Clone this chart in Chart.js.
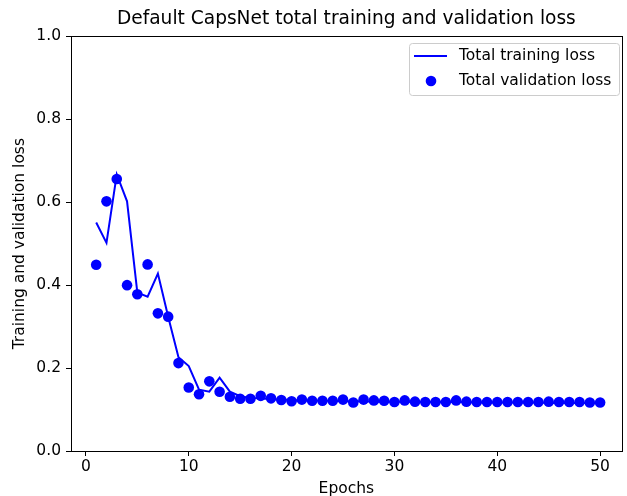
<!DOCTYPE html>
<html>
<head>
<meta charset="utf-8">
<script src="https://cdn.jsdelivr.net/npm/chart.js@4"></script>
<style>
html, body { margin: 0; padding: 0; background: #fff; }
</style>
</head>
<body>
<canvas id="chart" width="627" height="496"></canvas>
<script>
var epochs = [1, 2, 3, 4, 5, 6, 7, 8, 9, 10, 11, 12, 13, 14, 15, 16, 17, 18, 19, 20,
    21, 22, 23, 24, 25, 26, 27, 28, 29, 30, 31, 32, 33, 34, 35, 36, 37, 38, 39, 40,
    41, 42, 43, 44, 45, 46, 47, 48, 49, 50];

var trainLoss = [0.551, 0.502, 0.667, 0.602, 0.382, 0.372, 0.428, 0.324, 0.226, 0.205,
    0.148, 0.143, 0.177, 0.143, 0.132, 0.128, 0.127, 0.125, 0.124, 0.123,
    0.122, 0.122, 0.121, 0.121, 0.120, 0.120, 0.120, 0.119, 0.119, 0.119,
    0.119, 0.118, 0.118, 0.118, 0.118, 0.118, 0.118, 0.117, 0.117, 0.117,
    0.117, 0.117, 0.117, 0.117, 0.116, 0.116, 0.116, 0.116, 0.116, 0.116];

var valLoss = [0.449, 0.602, 0.656, 0.400, 0.378, 0.450, 0.332, 0.324, 0.212, 0.153,
    0.137, 0.168, 0.143, 0.131, 0.126, 0.126, 0.133, 0.127, 0.123, 0.120,
    0.124, 0.121, 0.121, 0.121, 0.124, 0.117, 0.124, 0.122, 0.121, 0.118,
    0.122, 0.119, 0.118, 0.118, 0.118, 0.122, 0.119, 0.118, 0.118, 0.118,
    0.118, 0.118, 0.118, 0.118, 0.119, 0.118, 0.118, 0.118, 0.117, 0.117];

var xTicks = [0, 10, 20, 30, 40, 50];
var yTicks = [0.0, 0.2, 0.4, 0.6, 0.8, 1.0];

var FONT = 'DejaVu Sans';
var TEXT_SIZE = 15.5;

function points(ys) {
    var out = [];
    for (var i = 0; i < epochs.length; i++) {
        out.push({ x: epochs[i], y: ys[i] });
    }
    return out;
}

// matplotlib style box round the axes
var framePlugin = {
    id: 'frame',
    afterDatasetsDraw: function (chart) {
        var a = chart.chartArea;
        var ctx = chart.ctx;
        ctx.save();
        ctx.strokeStyle = '#000';
        ctx.lineWidth = 1;
        ctx.strokeRect(Math.round(a.left) + 0.5, Math.round(a.top) + 0.5,
            Math.round(a.right - a.left), Math.round(a.bottom - a.top));
        ctx.restore();
    }
};

// legend sits inside the axes, upper right
var innerLegend = {
    id: 'innerLegend',
    afterDraw: function (chart) {
        var a = chart.chartArea;
        var ctx = chart.ctx;
        var sets = chart.data.datasets;
        ctx.save();
        ctx.font = TEXT_SIZE + 'px "' + FONT + '"';
        var w = 0;
        for (var i = 0; i < sets.length; i++) {
            w = Math.max(w, ctx.measureText(sets[i].label).width);
        }
        var boxW = Math.round(50 + w + 8);
        var boxH = 52;
        var x0 = Math.round(a.right - 3 - boxW);
        var y0 = Math.round(a.top + 7);

        ctx.beginPath();
        ctx.roundRect(x0 + 0.5, y0 + 0.5, boxW, boxH, 3);
        ctx.fillStyle = 'rgba(255,255,255,0.8)';
        ctx.fill();
        ctx.strokeStyle = '#cccccc';
        ctx.lineWidth = 1;
        ctx.stroke();

        for (var j = 0; j < sets.length; j++) {
            var cy = y0 + 13 + j * 25;
            var ds = sets[j];
            if (ds.showLine === false) {
                ctx.beginPath();
                ctx.arc(x0 + 22, cy, ds.pointRadius, 0, Math.PI * 2);
                ctx.fillStyle = ds.backgroundColor;
                ctx.fill();
            } else {
                ctx.beginPath();
                ctx.moveTo(x0 + 5, cy);
                ctx.lineTo(x0 + 38, cy);
                ctx.strokeStyle = ds.borderColor;
                ctx.lineWidth = ds.borderWidth;
                ctx.stroke();
            }
            ctx.fillStyle = '#000';
            ctx.textBaseline = 'middle';
            ctx.textAlign = 'left';
            ctx.fillText(ds.label, x0 + 50, cy);
        }
        ctx.restore();
    }
};

var config = {
    type: 'line',
    plugins: [framePlugin, innerLegend],
    data: {
        datasets: [{
            label: 'Total training loss',
            data: points(trainLoss),
            borderColor: '#0000ff',
            backgroundColor: '#0000ff',
            borderWidth: 2,
            pointRadius: 0,
            tension: 0
        }, {
            label: 'Total validation loss',
            data: points(valLoss),
            showLine: false,
            borderColor: '#0000ff',
            backgroundColor: '#0000ff',
            borderWidth: 0,
            pointRadius: 5.3,
            pointHoverRadius: 5.3
        }]
    },
    options: {
        responsive: false,
        animation: false,
        layout: { padding: { left: 0, right: 3, top: 0, bottom: 0 } },
        plugins: {
            legend: { display: false },
            tooltip: { enabled: false },
            title: {
                display: true,
                fullSize: false,
                text: 'Default CapsNet total training and validation loss',
                color: '#000',
                font: { family: FONT, size: 18.6, weight: 'normal' },
                padding: { top: 8, bottom: 6 }
            }
        },
        scales: {
            x: {
                type: 'linear',
                min: -1.45,
                max: 52.1,
                border: { display: false },
                grid: { drawOnChartArea: false, drawTicks: true, tickLength: 5, color: '#000' },
                afterBuildTicks: function (scale) {
                    scale.ticks = xTicks.map(function (v) { return { value: v }; });
                },
                afterFit: function (scale) { scale.height = 45; },
                ticks: {
                    color: '#000',
                    padding: 2,
                    maxRotation: 0,
                    font: { family: FONT, size: TEXT_SIZE },
                    callback: function (v) { return String(v); }
                },
                title: {
                    display: true,
                    text: 'Epochs',
                    color: '#000',
                    font: { family: FONT, size: TEXT_SIZE },
                    padding: { top: 0, bottom: -2.5 }
                }
            },
            y: {
                min: 0,
                max: 1,
                border: { display: false },
                grid: { drawOnChartArea: false, drawTicks: true, tickLength: 5, color: '#000' },
                afterBuildTicks: function (scale) {
                    scale.ticks = yTicks.map(function (v) { return { value: v }; });
                },
                afterFit: function (scale) { scale.width = 71; },
                ticks: {
                    color: '#000',
                    padding: 5,
                    font: { family: FONT, size: TEXT_SIZE },
                    callback: function (v) { return Number(v).toFixed(1); }
                },
                title: {
                    display: true,
                    text: 'Training and validation loss',
                    color: '#000',
                    font: { family: FONT, size: TEXT_SIZE },
                    padding: { top: 11, bottom: 0 }
                }
            }
        }
    }
};

var ctx = document.getElementById('chart').getContext('2d');
window.lossChart = new Chart(ctx, config);
</script>
</body>
</html>
